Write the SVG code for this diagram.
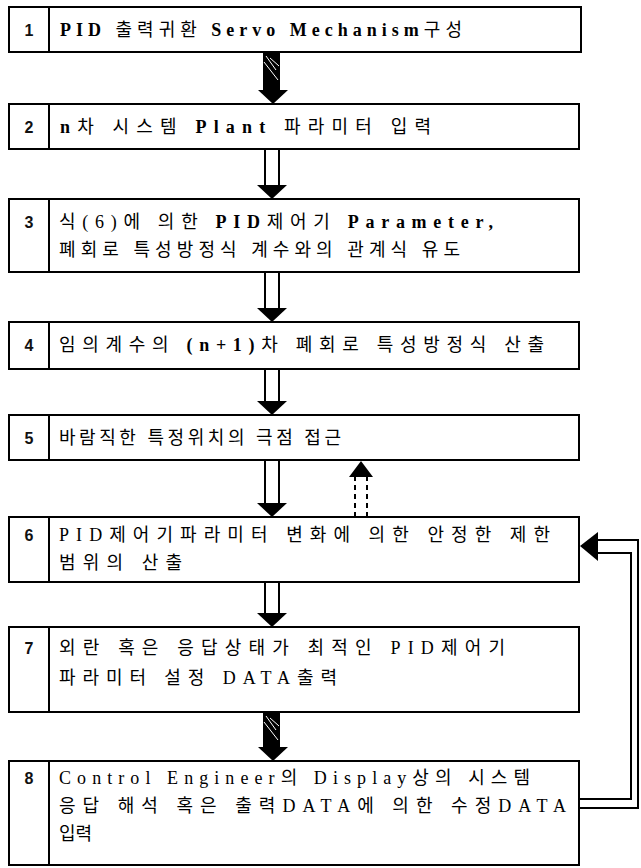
<svg xmlns="http://www.w3.org/2000/svg" width="641" height="868" viewBox="0 0 641 868">
<style>
.box{fill:#fff;stroke:#000;stroke-width:2}
.sep{stroke:#000;stroke-width:2}
.num{font-family:"Liberation Sans","Noto Sans CJK KR",sans-serif;font-size:16px;font-weight:bold;fill:#111;text-anchor:middle}
.t{font-family:"Liberation Serif","Noto Sans CJK KR",serif;font-size:18px;fill:#000}
.b{font-weight:bold}
.ln{stroke:#000;stroke-width:2;fill:none}
.dash{stroke:#000;stroke-width:2;fill:none;stroke-dasharray:5 4}
.head{fill:#000}
.hatch{stroke:#fff;stroke-width:1}
</style>
<rect width="641" height="868" fill="#fff"/>
<g id="connectors">
  <!-- 1 -> 2 hatched -->
  <rect x="263" y="52" width="17" height="39" fill="#000"/>
  <path class="hatch" d="M266 56 L276 70 M264 62 L278 80 M270 58 L279 66"/>
  <polygon class="head" points="258,90 288,90 273,104"/>
  <!-- 2 -> 3 -->
  <path class="ln" d="M265 149 V186 M279 149 V186"/>
  <polygon class="head" points="257,185 287,185 272,199"/>
  <!-- 3 -> 4 -->
  <path class="ln" d="M265 272 V309 M279 272 V309"/>
  <polygon class="head" points="257,308 287,308 272,322"/>
  <!-- 4 -> 5 -->
  <path class="ln" d="M265 369 V402 M279 369 V402"/>
  <polygon class="head" points="257,401 287,401 272,415"/>
  <!-- 5 -> 6 -->
  <path class="ln" d="M265 460 V504 M279 460 V504"/>
  <polygon class="head" points="257,503 287,503 272,517"/>
  <!-- 6 -> 5 dashed -->
  <path class="dash" d="M355 517 V476 M367 517 V476"/>
  <polygon class="head" points="349,477 373,477 361,461"/>
  <!-- 6 -> 7 -->
  <path class="ln" d="M265 582 V614 M279 582 V614"/>
  <polygon class="head" points="257,613 287,613 272,627"/>
  <!-- 7 -> 8 hatched -->
  <rect x="263" y="712" width="17" height="36" fill="#000"/>
  <path class="hatch" d="M266 716 L276 730 M264 722 L278 740 M270 718 L279 726"/>
  <polygon class="head" points="258,747 288,747 273,761"/>
  <!-- feedback loop 8 -> 6 -->
  <path class="ln" d="M597 540 H638 V808 H579"/>
  <path class="ln" d="M597 553 H631 V799 H579"/>
  <polygon class="head" points="580,546 598,532 598,561"/>
</g>
<g id="n1">
  <rect class="box" x="9" y="7" width="572" height="45"/>
  <line class="sep" x1="49" y1="7" x2="49" y2="52"/>
  <text class="num" x="29" y="36">1</text>
  <text class="t" x="60" y="36" textLength="402" lengthAdjust="spacing"><tspan class="b">PID</tspan>  출력귀환  <tspan class="b">Servo Mechanism</tspan>구성</text>
</g>
<g id="n2">
  <rect class="box" x="9" y="104" width="570" height="45"/>
  <line class="sep" x1="49" y1="104" x2="49" y2="149"/>
  <text class="num" x="29" y="133">2</text>
  <text class="t" x="60" y="133" textLength="371" lengthAdjust="spacing"><tspan class="b">n</tspan>차  시스템  <tspan class="b">Plant</tspan>  파라미터  입력</text>
</g>
<g id="n3">
  <rect class="box" x="9" y="199" width="570" height="73"/>
  <line class="sep" x1="49" y1="199" x2="49" y2="272"/>
  <text class="num" x="29" y="228">3</text>
  <text class="t" x="59" y="228" textLength="434" lengthAdjust="spacing">식(6)에  의한  <tspan class="b">PID</tspan>제어기  <tspan class="b">Parameter,</tspan></text>
  <text class="t" x="59" y="256" textLength="401" lengthAdjust="spacing">폐회로  특성방정식  계수와의  관계식  유도</text>
</g>
<g id="n4">
  <rect class="box" x="9" y="322" width="570" height="47"/>
  <line class="sep" x1="49" y1="322" x2="49" y2="369"/>
  <text class="num" x="29" y="351">4</text>
  <text class="t" x="59" y="351" textLength="485" lengthAdjust="spacing">임의계수의  <tspan class="b">(n+1)</tspan>차  폐회로  특성방정식  산출</text>
</g>
<g id="n5">
  <rect class="box" x="9" y="415" width="570" height="45"/>
  <line class="sep" x1="49" y1="415" x2="49" y2="460"/>
  <text class="num" x="29" y="444">5</text>
  <text class="t" x="59" y="444" textLength="282" lengthAdjust="spacing">바람직한  특정위치의  극점  접근</text>
</g>
<g id="n6">
  <rect class="box" x="9" y="517" width="570" height="65"/>
  <line class="sep" x1="49" y1="517" x2="49" y2="582"/>
  <text class="num" x="29" y="541">6</text>
  <text class="t" x="59" y="541" textLength="491" lengthAdjust="spacing">PID제어기파라미터  변화에  의한  안정한  제한</text>
  <text class="t" x="59" y="569" textLength="123" lengthAdjust="spacing">범위의  산출</text>
</g>
<g id="n7">
  <rect class="box" x="9" y="627" width="570" height="85"/>
  <line class="sep" x1="49" y1="627" x2="49" y2="712"/>
  <text class="num" x="29" y="654">7</text>
  <text class="t" x="59" y="654" textLength="446" lengthAdjust="spacing">외란  혹은  응답상태가  최적인  PID제어기</text>
  <text class="t" x="59" y="684" textLength="278" lengthAdjust="spacing">파라미터  설정  DATA출력</text>
</g>
<g id="n8">
  <rect class="box" x="9" y="761" width="570" height="104"/>
  <line class="sep" x1="49" y1="761" x2="49" y2="865"/>
  <text class="num" x="29" y="784">8</text>
  <text class="t" x="59" y="784" textLength="471" lengthAdjust="spacing">Control  Engineer의  Display상의  시스템</text>
  <text class="t" x="59" y="812" textLength="507" lengthAdjust="spacing">응답  해석  혹은  출력DATA에  의한  수정DATA</text>
  <text class="t" x="59" y="840">입력</text>
</g>
</svg>
